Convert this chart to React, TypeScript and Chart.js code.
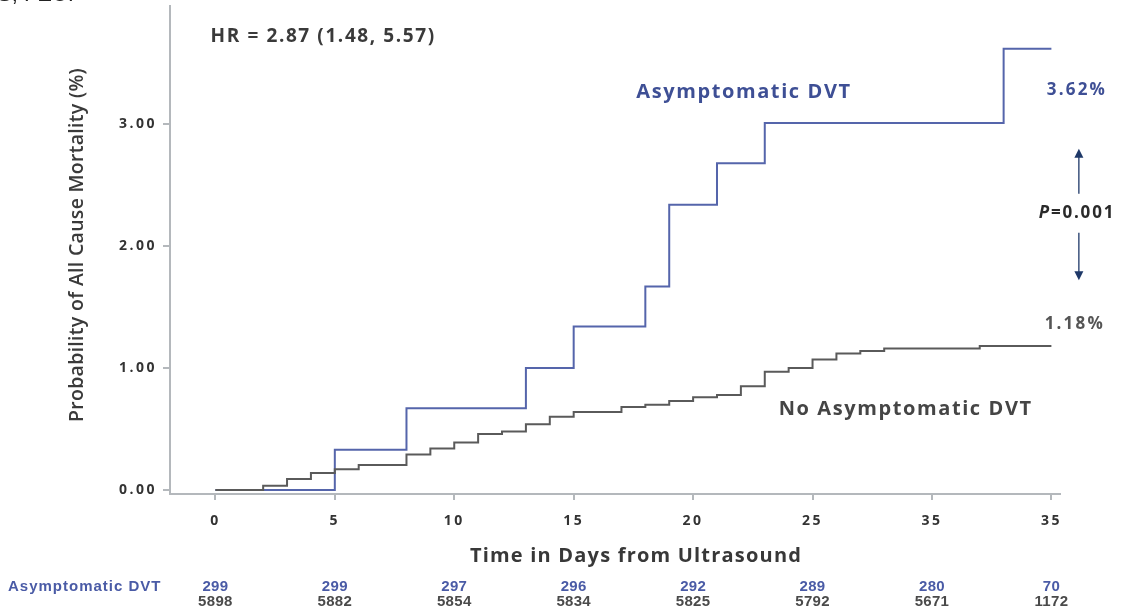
import React, { useEffect, useRef } from "react";
import { Chart, registerables } from "chart.js";

Chart.register(...registerables);

// ---- data ----
const asymDays = [0, 5, 8, 13, 15, 18, 19, 21, 23, 33, 35];
const asymValues = [0, 0.33, 0.67, 1.0, 1.34, 1.67, 2.34, 2.68, 3.01, 3.62, 3.62];
const noAsymDays = [0, 2, 3, 4, 5, 6, 8, 9, 10, 11, 12, 13, 14, 15, 17, 18, 19, 20, 21, 22, 23, 24, 25, 26, 27, 28, 32, 35];
const noAsymValues = [0, 0.035, 0.09, 0.14, 0.17, 0.205, 0.29, 0.34, 0.39, 0.46, 0.48, 0.54, 0.6, 0.64, 0.68, 0.7, 0.73, 0.76, 0.78, 0.85, 0.97, 1.0, 1.07, 1.12, 1.14, 1.16, 1.18, 1.18];
const xTickValues = [0, 5, 10, 15, 20, 25, 30, 35];
const xTickLabels = ["0", "5", "10", "15", "20", "25", "35", "35"];
const yTickValues = [0, 1, 2, 3];
const yTickLabels = ["0.00", "1.00", "2.00", "3.00"];
const riskAsym = ["299", "299", "297", "296", "292", "289", "280", "70"];
const riskNoAsym = ["5898", "5882", "5854", "5834", "5825", "5792", "5671", "1172"];

const BLUE_LINE = "#5565ab";
const BLUE_TEXT = "#3e4f95";
const GREY_LINE = "#5a5a5a";
const GREY_TEXT = "#454545";
const AXIS = "#b4b8bc";
const NAVY = "#1e3868";
const GILL = "'Open Sans', Lato, sans-serif";
const ARIAL = "'Liberation Sans', Arial, sans-serif";

function txt(ctx: CanvasRenderingContext2D, s: string, x: number, y: number, font: string, color: string, align: CanvasTextAlign = "center", spacing = "0px") {
  ctx.save();
  ctx.font = font;
  ctx.fillStyle = color;
  ctx.textAlign = align;
  ctx.textBaseline = "middle";
  (ctx as any).letterSpacing = spacing;
  ctx.fillText(s, x, y);
  ctx.restore();
}

function arrow(ctx: CanvasRenderingContext2D, x: number, y0: number, y1: number) {
  const dir = y1 < y0 ? -1 : 1;
  ctx.save();
  ctx.strokeStyle = NAVY;
  ctx.fillStyle = NAVY;
  ctx.lineWidth = 1.3;
  ctx.beginPath();
  ctx.moveTo(x, y0);
  ctx.lineTo(x, y1 - dir * 8);
  ctx.stroke();
  ctx.beginPath();
  ctx.moveTo(x, y1);
  ctx.lineTo(x - 4.5, y1 - dir * 9);
  ctx.lineTo(x + 4.5, y1 - dir * 9);
  ctx.closePath();
  ctx.fill();
  ctx.restore();
}

const tickSpacing = {
  id: "tickSpacing",
  beforeDraw(chart: any) {
    (chart.ctx as any).letterSpacing = "2.5px";
  },
  beforeDatasetsDraw(chart: any) {
    (chart.ctx as any).letterSpacing = "0px";
  },
};

const decorations = {
  id: "decorations",
  afterDraw(chart: any) {
    const ctx: CanvasRenderingContext2D = chart.ctx;
    const xs = chart.scales.x;
    const ys = chart.scales.y;
    const px = (d: number) => xs.getPixelForValue(d);
    const py = (v: number) => ys.getPixelForValue(v);

    // clipped header fragment at the very top
    txt(ctx, "S, FEUP", -3, -5, `22px ${ARIAL}`, "#222", "left");

    // HR
    txt(ctx, "HR = 2.87 (1.48, 5.57)", px(-0.2), py(3.72), `bold 19px ${GILL}`, "#3a3a3a", "left", "1.6px");

    // series labels
    txt(ctx, "Asymptomatic DVT", px(22.13), py(3.26), `bold 20px ${GILL}`, BLUE_TEXT, "center", "1.6px");
    txt(ctx, "3.62%", px(36.07), py(3.28), `bold 17px ${GILL}`, BLUE_TEXT, "center", "2.2px");
    txt(ctx, "No Asymptomatic DVT", px(28.9), py(0.66), `bold 20px ${GILL}`, GREY_TEXT, "center", "1.6px");
    txt(ctx, "1.18%", px(35.98), py(1.36), `bold 17px ${GILL}`, "#555", "center", "2.2px");

    // P value
    ctx.save();
    const pFont = `italic bold 17px ${GILL}`;
    const rFont = `bold 17px ${GILL}`;
    (ctx as any).letterSpacing = "1.8px";
    ctx.font = pFont;
    const wP = ctx.measureText("P").width;
    ctx.font = rFont;
    const wR = ctx.measureText("=0.001").width;
    ctx.restore();
    const cx = px(36.07);
    const cy = py(2.27);
    const left = cx - (wP + wR) / 2;
    txt(ctx, "P", left, cy, pFont, "#2a2a2a", "left", "1.8px");
    txt(ctx, "=0.001", left + wP, cy, rFont, "#2a2a2a", "left", "1.8px");

    // arrows
    const ax = px(36.15);
    arrow(ctx, ax, py(2.43), py(2.8));
    arrow(ctx, ax, py(2.11), py(1.72));

    // axis titles
    txt(ctx, "Time in Days from Ultrasound", 636, 556, `bold 20px ${GILL}`, "#383838", "center", "1.2px");
    ctx.save();
    ctx.translate(77, 245);
    ctx.rotate(-Math.PI / 2);
    txt(ctx, "Probability of All Cause Mortality (%)", 0, 0, `600 19.5px ${GILL}`, "#3a3a3a", "center", "0.3px");
    ctx.restore();

    // numbers at risk
    txt(ctx, "Asymptomatic DVT", 8, 587, `bold 15px ${ARIAL}`, "#4a5ba6", "left", "1px");
    xTickValues.forEach((d, i) => {
      txt(ctx, riskAsym[i], px(d), 587, `bold 15px ${ARIAL}`, "#4a5ba6", "center", "0.3px");
      txt(ctx, riskNoAsym[i], px(d), 602, `bold 15px ${ARIAL}`, "#4a4a4a", "center", "0.3px");
    });
  },
};

export default function App() {
  const ref = useRef<HTMLCanvasElement | null>(null);
  useEffect(() => {
    if (!ref.current) return;
    const chart = new Chart(ref.current, {
      type: "line",
      data: {
        datasets: [
          {
            label: "No Asymptomatic DVT",
            data: noAsymDays.map((d, i) => ({ x: d, y: noAsymValues[i] })),
            borderColor: GREY_LINE,
            borderWidth: 2,
            stepped: "before",
            pointRadius: 0,
            fill: false,
          },
          {
            label: "Asymptomatic DVT",
            data: asymDays.map((d, i) => ({ x: d, y: asymValues[i] })),
            borderColor: BLUE_LINE,
            borderWidth: 2,
            stepped: "before",
            pointRadius: 0,
            fill: false,
          },
        ],
      },
      options: {
        animation: false,
        responsive: false,
        devicePixelRatio: 1,
        layout: { padding: { top: 6, right: 62, left: 0, bottom: 0 } },
        plugins: { legend: { display: false }, tooltip: { enabled: false } },
        scales: {
          x: {
            type: "linear",
            min: -1.9,
            max: 35.36,
            afterBuildTicks: (s: any) => {
              s.ticks = xTickValues.map((v) => ({ value: v }));
            },
            afterFit: (s: any) => {
              s.height = 117;
              s.paddingLeft = 0;
              s.paddingRight = 0;
            },
            ticks: {
              callback: (_v: any, i: number) => xTickLabels[i],
              font: { family: "'Open Sans'", weight: "bold", size: 14 },
              color: "#333",
              padding: 13,
              maxRotation: 0,
              autoSkip: false,
            },
            grid: { display: true, drawOnChartArea: false, drawTicks: true, tickLength: 6, color: AXIS, lineWidth: 2 },
            border: { display: true, color: AXIS, width: 2 },
          },
          y: {
            type: "linear",
            min: -0.033,
            max: 3.97,
            afterBuildTicks: (s: any) => {
              s.ticks = yTickValues.map((v) => ({ value: v }));
            },
            afterFit: (s: any) => {
              s.width = 170;
              s.paddingTop = 0;
              s.paddingBottom = 0;
            },
            ticks: {
              callback: (_v: any, i: number) => yTickLabels[i],
              font: { family: "'Open Sans'", weight: "bold", size: 14 },
              color: "#333",
              padding: 6,
              autoSkip: false,
            },
            grid: { display: true, drawOnChartArea: false, drawTicks: true, tickLength: 7, color: AXIS, lineWidth: 2 },
            border: { display: true, color: AXIS, width: 2 },
          },
        },
      },
      plugins: [tickSpacing, decorations],
    } as any);
    return () => chart.destroy();
  }, []);
  return (
    <div style={{ position: "absolute", left: 0, top: 0, width: 1122, height: 611, background: "#fff" }}>
      <canvas ref={ref} width={1122} height={611} style={{ display: "block" }} />
    </div>
  );
}
